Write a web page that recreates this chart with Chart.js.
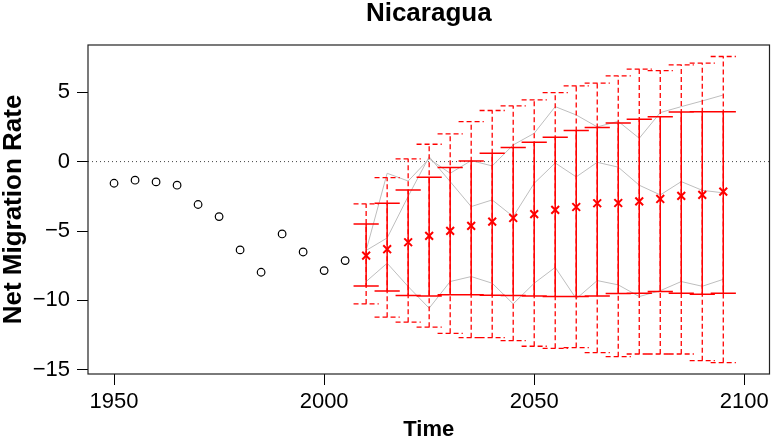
<!DOCTYPE html>
<html>
<head>
	<title>Nicaragua - Net Migration Rate</title>
	<script src="https://cdn.jsdelivr.net/npm/chart.js"></script>
	<style>
		body { margin: 0; background: #fff; }
	</style>
</head>
<body>
	<canvas id="nmChart" width="777" height="444"></canvas>
	<script>
		// observed values
		var obsYears = [1950, 1955, 1960, 1965, 1970, 1975, 1980, 1985, 1990, 1995, 2000, 2005];
		var obsRate = [-1.56, -1.34, -1.46, -1.70, -3.09, -3.96, -6.36, -7.97, -5.21, -6.51, -7.85, -7.13];

		// projections
		var projYears = [2010, 2015, 2020, 2025, 2030, 2035, 2040, 2045, 2050, 2055, 2060, 2065, 2070, 2075, 2080, 2085, 2090, 2095];
		var median = [-6.77, -6.31, -5.81, -5.35, -4.99, -4.63, -4.32, -4.06, -3.78, -3.48, -3.27, -3.0, -2.98, -2.86, -2.69, -2.47, -2.40, -2.16];
		var hi80 = [-4.49, -3.0, -2.04, -1.13, -0.43, 0.05, 0.6, 1.01, 1.4, 1.76, 2.24, 2.45, 2.79, 3.05, 3.24, 3.58, 3.6, 3.6];
		var lo80 = [-8.96, -9.32, -9.65, -9.68, -9.6, -9.6, -9.63, -9.65, -9.68, -9.72, -9.72, -9.68, -9.5, -9.48, -9.36, -9.48, -9.55, -9.48];
		var hi95 = [-3.05, -1.15, 0.19, 1.25, 2.0, 2.88, 3.68, 4.01, 4.44, 4.97, 5.45, 5.65, 6.17, 6.66, 6.56, 6.97, 7.09, 7.57];
		var lo95 = [-10.25, -11.21, -11.57, -11.93, -12.37, -12.68, -12.68, -12.9, -13.3, -13.45, -13.4, -13.76, -14.05, -13.86, -13.86, -13.86, -14.34, -14.48];

		// a few sample trajectories (grey)
		var trajA = [-6.4, -0.84, -1.4, 0.2, -0.84, 0.07, -0.31, 1.2, 2.04, 3.96, 3.36, 2.5, 2.9, 1.68, 3.53, 3.96, 4.37, 4.8];
		var trajB = [-6.4, -5.5, -2.5, 0.35, -1.44, -3.24, -2.76, -3.96, -1.56, -0.1, -1.1, -0.05, -0.4, -1.7, -2.4, -1.44, -2.07, -2.25];
		var trajC = [-8.64, -7.32, -9.0, -10.56, -8.64, -8.28, -8.76, -10.25, -8.76, -7.62, -9.88, -8.57, -8.88, -9.72, -9.3, -8.64, -8.98, -8.48];

		var xTicks = [1950, 2000, 2050, 2100];
		var yTicks = [-15, -10, -5, 0, 5];
		var xMin = 1943.8, xMax = 2106;
		var yMin = -15.3, yMax = 8.4;
		var capHalf = 3; // years

		function toPoints(xs, ys) {
			return xs.map(function (x, i) { return { x: x, y: ys[i] }; });
		}

		// vertical bar + both caps for every year, broken up with null points
		function barSegments(lo, hi) {
			var pts = [];
			projYears.forEach(function (t, i) {
				pts.push({ x: t, y: lo[i] }, { x: t, y: hi[i] }, { x: t, y: null });
				pts.push({ x: t - capHalf, y: lo[i] }, { x: t + capHalf, y: lo[i] }, { x: t, y: null });
				pts.push({ x: t - capHalf, y: hi[i] }, { x: t + capHalf, y: hi[i] }, { x: t, y: null });
			});
			return pts;
		}

		function trajDataset(vals) {
			return {
				data: toPoints(projYears, vals),
				showLine: true,
				borderColor: '#bebebe',
				borderWidth: 1,
				pointRadius: 0,
				order: 3
			};
		}

		var boxPlugin = {
			id: 'box',
			afterDraw: function (chart) {
				var a = chart.chartArea, c = chart.ctx;
				c.save();
				c.strokeStyle = '#222';
				c.lineWidth = 1.2;
				c.strokeRect(a.left, a.top, a.right - a.left, a.bottom - a.top);
				c.restore();
			}
		};

		Chart.defaults.font.family = "'Liberation Sans', Arial, sans-serif";
		Chart.defaults.color = '#000';

		var ctx = document.getElementById('nmChart').getContext('2d');
		var chart = new Chart(ctx, {
			type: 'scatter',
			data: {
				datasets: [
					{
						data: toPoints(projYears, median),
						pointStyle: 'crossRot',
						pointRadius: 5.5,
						borderColor: '#ff0000',
						borderWidth: 2,
						order: 0
					},
					{
						data: barSegments(lo80, hi80),
						showLine: true,
						borderColor: '#ff0000',
						borderWidth: 1.5,
						pointRadius: 0,
						order: 1
					},
					{
						data: barSegments(lo95, hi95),
						showLine: true,
						borderColor: '#ff0000',
						borderWidth: 1.3,
						borderDash: [5, 3],
						pointRadius: 0,
						order: 2
					},
					trajDataset(trajA),
					trajDataset(trajB),
					trajDataset(trajC),
					{
						data: toPoints(obsYears, obsRate),
						pointStyle: 'circle',
						pointRadius: 3.8,
						borderColor: '#000',
						backgroundColor: 'rgba(0,0,0,0)',
						borderWidth: 1.2,
						order: 4
					},
					{
						data: [{ x: xMin, y: 0 }, { x: xMax, y: 0 }],
						showLine: true,
						borderColor: '#444',
						borderWidth: 1,
						borderDash: [1, 3],
						pointRadius: 0,
						order: 5
					}
				]
			},
			options: {
				responsive: false,
				animation: false,
				events: [],
				layout: { padding: { top: 0, right: 5, bottom: 0, left: 0 } },
				plugins: {
					legend: { display: false },
					tooltip: { enabled: false },
					title: {
						display: true,
						fullSize: false,
						text: 'Nicaragua',
						font: { size: 26, weight: 'bold', lineHeight: 1 },
						padding: { top: 1, bottom: 18 }
					}
				},
				scales: {
					x: {
						type: 'linear',
						min: xMin,
						max: xMax,
						afterBuildTicks: function (s) { s.ticks = xTicks.map(function (v) { return { value: v }; }); },
						afterFit: function (s) { s.height = 70; },
						grid: { drawOnChartArea: false, drawTicks: true, tickLength: 11, tickColor: '#000' },
						border: { display: false },
						ticks: { font: { size: 22 }, padding: 4, maxRotation: 0, callback: function (v) { return String(v); } },
						title: { display: true, text: 'Time', font: { size: 22, weight: 'bold', lineHeight: 1.2 }, padding: { top: 0, bottom: 1 } }
					},
					y: {
						type: 'linear',
						min: yMin,
						max: yMax,
						afterBuildTicks: function (s) { s.ticks = yTicks.map(function (v) { return { value: v }; }); },
						afterFit: function (s) { s.width = 88; },
						grid: { drawOnChartArea: false, drawTicks: true, tickLength: 11, tickColor: '#000' },
						border: { display: false },
						ticks: { font: { size: 22 }, padding: 7, callback: function (v) { return String(v).replace('-', '\u2212'); } },
						title: { display: true, text: 'Net Migration Rate', font: { size: 26, weight: 'bold', lineHeight: 1 }, padding: { top: 1, bottom: 0 } }
					}
				}
			},
			plugins: [boxPlugin]
		});
	</script>
</body>
</html>
